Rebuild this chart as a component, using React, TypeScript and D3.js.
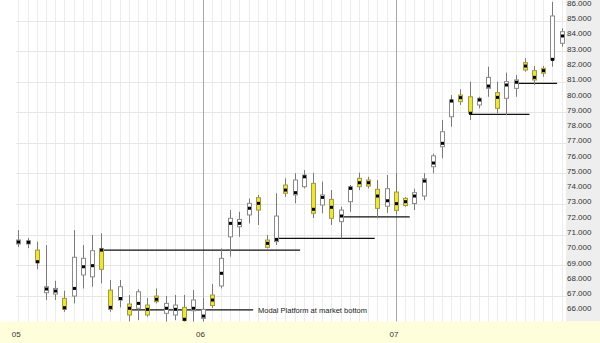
import React from "react";
import * as d3 from "d3";

// ---- data ----
const opens = [70.38,70.38,69.98,67.19,67.10,66.82,66.97,68.35,68.23,70.09,67.36,66.71,66.45,66.17,66.38,66.97,65.84,65.73,66.23,66.01,65.51,67.04,67.63,70.85,71.51,72.28,73.41,70.64,70.53,74.24,73.59,74.13,74.35,72.93,73.30,71.84,73.15,74.68,74.57,73.96,72.85,73.78,73.37,73.03,73.52,75.44,76.75,78.71,80.13,80.02,79.48,80.57,80.29,79.92,80.57,82.25,81.73,81.88,82.43,83.52];
const highs = [71.29,70.77,70.53,70.31,67.97,67.32,71.29,70.31,70.97,71.08,68.02,68.02,67.04,67.41,66.84,67.47,66.97,67.04,67.04,67.36,66.84,67.76,70.09,72.60,72.49,73.37,73.59,70.97,73.70,74.68,75.01,75.22,75.03,74.46,73.91,72.82,74.24,75.05,74.78,74.57,74.90,75.01,73.45,74.00,75.01,76.29,78.50,80.13,80.51,81.01,80.02,81.99,81.01,81.60,81.44,82.54,82.03,82.03,86.23,84.50];
const lows = [70.18,70.11,68.72,66.71,66.71,65.94,66.49,67.47,67.58,67.80,65.94,66.23,65.29,65.40,65.62,66.49,65.20,65.40,64.96,64.96,64.96,66.19,67.47,69.55,70.85,71.73,71.62,70.09,70.31,73.47,73.04,74.02,72.08,72.39,71.62,70.75,72.49,73.91,74.02,72.06,72.41,72.34,72.83,72.60,73.25,75.01,75.99,78.06,79.48,78.50,79.26,80.02,78.94,78.82,80.02,81.66,80.79,81.33,81.99,83.30];
const closes = [70.64,70.59,69.15,67.58,67.47,66.10,69.51,69.44,69.94,68.72,66.10,67.58,65.73,67.25,65.73,66.60,66.49,66.38,65.36,66.71,66.10,66.35,69.44,72.06,71.99,73.04,72.60,70.16,72.21,73.70,74.57,74.89,72.39,73.59,72.06,72.60,74.13,74.13,74.17,72.71,74.00,72.58,72.90,73.74,74.65,76.15,77.73,79.81,79.70,78.94,79.92,81.29,79.26,81.01,81.12,81.77,81.12,81.56,85.31,84.28];
const modals = [70.51,70.49,69.22,67.43,67.30,66.21,67.47,68.89,68.96,69.98,66.23,66.81,66.17,66.49,66.10,66.76,66.17,66.10,65.45,66.17,65.66,66.71,68.46,71.73,71.73,72.72,73.04,70.42,70.68,73.91,73.74,74.78,72.65,73.43,72.78,72.21,74.02,74.39,74.39,73.52,73.21,73.02,73.15,73.52,74.50,75.68,76.97,79.74,79.96,78.94,79.81,80.72,79.98,80.79,80.97,82.03,81.29,81.73,82.47,84.00];

const monthStarts = [0, 20, 41];
const monthLabels = ["05", "06", "07"];

const yTickValues = [66,67,68,69,70,71,72,73,74,75,76,77,78,79,80,81,82,83,84,85,86];
const yGridValues = [67,69,71,73,75,77,79,81,83,85];

const platformStart = [9, 12, 28, 35, 49, 54];
const platformEnd = [30.6, 25.5, 38.7, 42.5, 55.5, 58.5];
const platformValue = [69.98, 66.06, 70.75, 72.16, 78.87, 80.90];

const annotationText = "Modal Platform at market bottom";

// ---- layout ----
const W = 600, H = 343;
const plotRight = 566;
const plotBottom = 321.5;
const FONT = "'Liberation Sans', Arial, sans-serif";

export default function App() {
  const n = opens.length;
  const x = d3.scaleLinear().domain([0, n - 1]).range([18.3, 561.7]);
  const y = d3.scaleLinear().domain([67, 85]).range([295.6, 20.7]);
  const idx = d3.range(n);
  const bw = 4;

  return (
    <svg width={W} height={H} style={{ position: "absolute", left: 0, top: 0, display: "block" }}
      xmlns="http://www.w3.org/2000/svg">
      <defs>
        <clipPath id="plot"><rect x={0} y={0} width={plotRight} height={plotBottom} /></clipPath>
      </defs>
      <rect x={0} y={0} width={W} height={H} fill="#ffffff" />
      <rect x={plotRight} y={0} width={W - plotRight} height={plotBottom} fill="#eeeeee" />
      <rect x={0} y={plotBottom} width={W} height={H - plotBottom} fill="#fffedb" />

      {/* vertical grid */}
      {idx.map(i => (
        <line key={"vg" + i} x1={Math.round(x(i)) + 0.5} x2={Math.round(x(i)) + 0.5} y1={0} y2={plotBottom}
          stroke="#ececec" strokeWidth={1} />
      ))}
      {/* horizontal grid */}
      {yGridValues.map(v => (
        <line key={"hg" + v} x1={16} x2={plotRight} y1={Math.round(y(v)) + 0.5} y2={Math.round(y(v)) + 0.5}
          stroke="#e6e6e6" strokeWidth={1} />
      ))}
      {/* month dividers */}
      {monthStarts.slice(1).map(i => (
        <line key={"md" + i} x1={Math.round(x(i)) + 0.5} x2={Math.round(x(i)) + 0.5} y1={0} y2={plotBottom}
          stroke="#a8a8a8" strokeWidth={1} />
      ))}

      {/* platforms */}
      {platformStart.map((s, k) => (
        <line key={"pf" + k} x1={x(s)} x2={x(platformEnd[k])} y1={y(platformValue[k])} y2={y(platformValue[k])}
          stroke="#111" strokeWidth={1.2} />
      ))}

      {/* candles */}
      <g clipPath="url(#plot)">
        {idx.map(i => {
          const up = closes[i] >= opens[i];
          const cx = Math.round(x(i)) + 0.5;
          const top = y(Math.max(opens[i], closes[i]));
          const bot = y(Math.min(opens[i], closes[i]));
          return (
            <g key={"c" + i}>
              <line x1={cx} x2={cx} y1={y(highs[i])} y2={y(lows[i])} stroke="#7a7a7a" strokeWidth={1} />
              <rect x={cx - bw / 2} y={top} width={bw} height={Math.max(1, bot - top)}
                fill={up ? "#ffffff" : "#ece63c"} stroke={up ? "#8a8a8a" : "#a09a40"} strokeWidth={1} />
              <rect x={cx - 1.5} y={y(modals[i]) - 1.5} width={3} height={3} fill="#000" />
            </g>
          );
        })}
      </g>

      <text x={258} y={313} fontFamily={FONT} fontSize={8} fill="#222" textLength={109} lengthAdjust="spacingAndGlyphs">{annotationText}</text>

      {/* y labels */}
      {yTickValues.map(v => (
        <text key={"yl" + v} x={567} y={y(v) + 0.5} fontFamily={FONT} fontSize={8} fill="#333">
          {d3.format(".3f")(v)}
        </text>
      ))}

      {/* month labels */}
      {monthStarts.map((i, k) => (
        <text key={"ml" + k} x={x(i) - 2} y={337} textAnchor="middle" fontFamily={FONT} fontSize={8} fill="#333">
          {monthLabels[k]}
        </text>
      ))}
    </svg>
  );
}
